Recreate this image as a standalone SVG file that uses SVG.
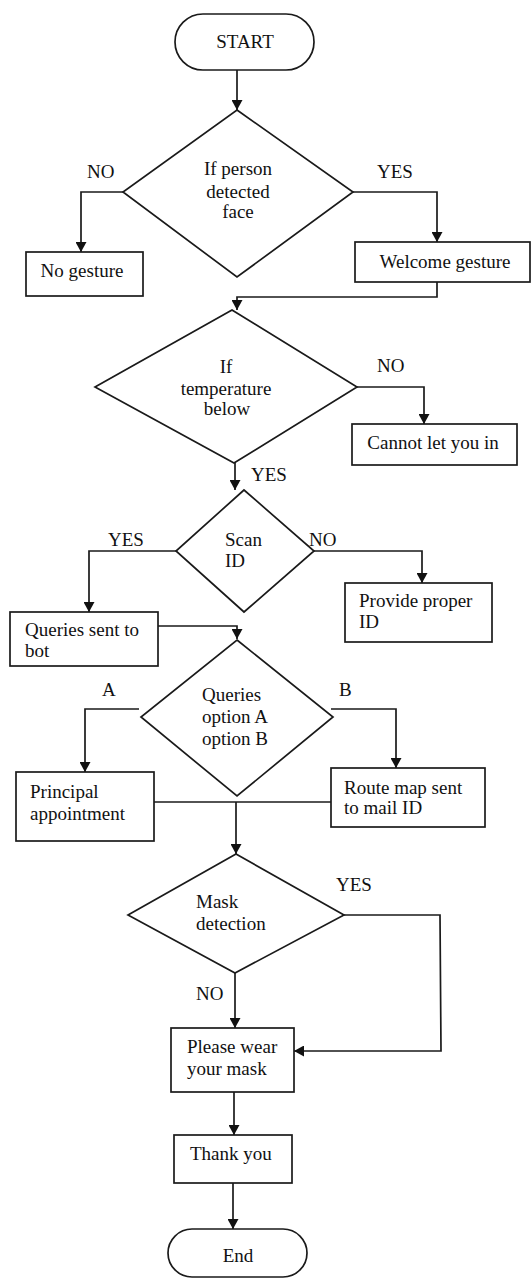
<svg xmlns="http://www.w3.org/2000/svg" width="532" height="1278" viewBox="0 0 532 1278">
<defs>
<marker id="ah" viewBox="0 0 10 11" refX="10" refY="5.5" markerWidth="10" markerHeight="11" markerUnits="userSpaceOnUse" orient="auto">
<path d="M0,0 L10,5.5 L0,11 z" fill="#111"/>
</marker>
<style>
.s{fill:#fff;stroke:#1a1a1a;stroke-width:1.7}
.c{fill:none;stroke:#1a1a1a;stroke-width:1.7}
.a{marker-end:url(#ah)}
text{font-family:"Liberation Serif","Times New Roman",serif;font-size:19px;fill:#111}
.m{text-anchor:middle}
</style>
</defs>
<rect width="532" height="1278" fill="#fff"/>

<g id="connectors">
<path class="c a" d="M237,70 L237,110"/>
<path class="c a" d="M123,192 L81,192 L81,252"/>
<path class="c a" d="M353,192 L437,192 L437,242"/>
<path class="c a" d="M437,282 L437,297 L237,297 L237,310"/>
<path class="c a" d="M357,387 L424,387 L424,424"/>
<path class="c a" d="M235,463 L235,490"/>
<path class="c a" d="M176,551 L89,551 L89,612"/>
<path class="c a" d="M314,551 L422,551 L422,583"/>
<path class="c a" d="M158,626 L237,626 L237,639"/>
<path class="c a" d="M139,709 L85,709 L85,772"/>
<path class="c a" d="M331,709 L396,709 L396,768"/>
<path class="c" d="M154,802 L331,802"/>
<path class="c a" d="M236,802 L236,854"/>
<path class="c a" d="M344,915 L440,915 L441,1051 L294,1051"/>
<path class="c a" d="M235,973 L235,1028"/>
<path class="c a" d="M234,1092 L234,1135"/>
<path class="c a" d="M233,1183 L233,1229"/>
</g>

<g id="labels">
<text x="87" y="178">NO</text>
<text x="377" y="178">YES</text>
<text x="377" y="372">NO</text>
<text x="251" y="481">YES</text>
<text x="108" y="546">YES</text>
<text x="309" y="546">NO</text>
<text x="102" y="696">A</text>
<text x="339" y="696">B</text>
<text x="336" y="891">YES</text>
<text x="196" y="1000">NO</text>
</g>

<g id="start">
<rect class="s" x="175" y="14" width="139" height="56" rx="28"/>
<text class="m" x="245" y="48">START</text>
</g>

<g id="d-face">
<polygon class="s" points="237,110 353,192 237,277 123,192"/>
<text class="m" x="238" y="175">If person</text>
<text class="m" x="238" y="198">detected</text>
<text class="m" x="238" y="218">face</text>
</g>

<g id="no-gesture">
<rect class="s" x="26" y="252" width="117" height="44"/>
<text class="m" x="82" y="277">No gesture</text>
</g>

<g id="welcome">
<rect class="s" x="355" y="242" width="175" height="40"/>
<text class="m" x="445" y="268">Welcome gesture</text>
</g>

<g id="d-temp">
<polygon class="s" points="232,310 357,387 234,463 95,387"/>
<text class="m" x="226" y="373">If</text>
<text class="m" x="226" y="395">temperature</text>
<text class="m" x="227" y="415">below</text>
</g>

<g id="cannot">
<rect class="s" x="352" y="424" width="165" height="41"/>
<text class="m" x="433" y="449">Cannot let you in</text>
</g>

<g id="d-scan">
<polygon class="s" points="244,490 314,551 244,612 176,551"/>
<text x="225" y="546">Scan</text>
<text x="225" y="567">ID</text>
</g>

<g id="queries-bot">
<rect class="s" x="10" y="612" width="148" height="54"/>
<text x="25" y="636">Queries sent to</text>
<text x="25" y="657">bot</text>
</g>

<g id="provide-id">
<rect class="s" x="345" y="583" width="147" height="59"/>
<text x="359" y="607">Provide proper</text>
<text x="359" y="628">ID</text>
</g>

<g id="d-queries">
<polygon class="s" points="237,640 333,717 237,796 141,717"/>
<text x="202" y="701">Queries</text>
<text x="202" y="723">option A</text>
<text x="202" y="745">option B</text>
</g>

<g id="principal">
<rect class="s" x="16" y="772" width="138" height="69"/>
<text x="30" y="798">Principal</text>
<text x="30" y="820">appointment</text>
</g>

<g id="route">
<rect class="s" x="331" y="768" width="154" height="59"/>
<text x="344" y="794">Route map sent</text>
<text x="344" y="814">to mail ID</text>
</g>

<g id="d-mask">
<polygon class="s" points="236,854 344,915 235,973 128,915"/>
<text x="196" y="908">Mask</text>
<text x="196" y="930">detection</text>
</g>

<g id="wear-mask">
<rect class="s" x="171" y="1028" width="123" height="64"/>
<text x="187" y="1053">Please wear</text>
<text x="187" y="1075">your mask</text>
</g>

<g id="thank-you">
<rect class="s" x="174" y="1135" width="118" height="48"/>
<text x="190" y="1160">Thank you</text>
</g>

<g id="end">
<rect class="s" x="168" y="1229" width="139" height="48" rx="24"/>
<text class="m" x="238" y="1262">End</text>
</g>
</svg>
